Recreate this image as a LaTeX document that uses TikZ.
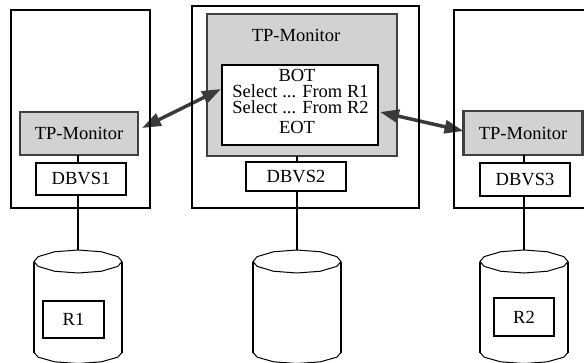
\documentclass[tikz,border=0pt]{standalone}
\usepackage{fontspec}
\setmainfont{Liberation Serif}
\usetikzlibrary{arrows.meta}
\definecolor{monfill}{RGB}{210,210,210}
\definecolor{monedge}{RGB}{64,64,64}
\definecolor{callgray}{RGB}{58,58,58}

\tikzset{
  pics/drum/.style={code={
    % top lid
    \draw[line width=1pt] (0:44 and 11.5)
      \foreach \a in {25,58,90,122,155,180,205,238,270,302,335} { -- (\a:44 and 11.5) } -- cycle;
    % walls
    \draw[line width=1.6pt] (-44,0) -- (-44,91) (44,0) -- (44,91);
    % bottom rim
    \draw[line width=1pt] ([shift={(0,91)}]180:44 and 11)
      \foreach \a in {155,122,90,58,25,0} { -- ([shift={(0,91)}]\a:44 and 11) };
    \coordinate (-top) at (0,-11.5);
  }}
}

\begin{document}
\begin{tikzpicture}[x=1pt,y=-1pt,
  every node/.style={inner sep=0pt, outer sep=0pt, font=\fontsize{18.5pt}{16pt}\selectfont},
  site/.style={draw, line width=2pt, rectangle},
  monitor/.style={draw=monedge, fill=monfill, line width=2.5pt, rectangle},
  dbvs/.style={draw, fill=white, line width=2.5pt, rectangle},
  sqlbox/.style={draw, fill=white, line width=2.5pt, rectangle},
  sqlline/.style={anchor=base, text height=12.5pt, text depth=2.5pt},
  relation/.style={draw, line width=1.5pt, rectangle},
  link/.style={line width=2pt},
  call/.style={callgray, line width=3.5pt,
    {Triangle[length=19pt,width=13pt]}-{Triangle[length=19pt,width=13pt]}}
]
\useasboundingbox (0,0) rectangle (584,362);
\clip (0,0) rectangle (584,362);

% transaction monitors
\node[monitor, minimum width=118pt, minimum height=43pt] (tpL) at (79,133.5) {TP-Monitor};
\node[monitor, minimum width=190pt, minimum height=142pt] (tpM) at (302,85) {};
\node[anchor=base] (tpMlabel) at (296,41) {TP-Monitor};
\node[monitor, minimum width=119pt, minimum height=44pt] (tpR) at (523,133) {TP-Monitor};

% transaction program
\node[sqlbox, minimum width=156pt, minimum height=80pt] (sql) at (300,105) {};
\node[sqlline] (bot) at (297,81) {BOT};
\node[sqlline] (sel1) at (300.5,97) {Select ... From R1};
\node[sqlline] (sel2) at (300.5,113) {Select ... From R2};
\node[sqlline] (eot) at (297,133) {EOT};

% databases
\pic (cylL) at (78,261.5) {drum};
\pic (cylM) at (297,261.5) {drum};
\pic (cylR) at (524,261.5) {drum};

\node[relation, minimum width=61pt, minimum height=37pt] (r1) at (73.5,319.5) {R1};
\node[relation, minimum width=60pt, minimum height=38pt] (r2) at (524,317) {R2};

% monitor to database links
\draw[link] (cylL-top) -- (cylL-top |- tpL.south);
\draw[link] (cylM-top) -- (cylM-top |- tpM.south);
\draw[link] (cylR-top) -- (cylR-top |- tpR.south);

% database systems
\node[dbvs, minimum width=90pt, minimum height=32pt] (db1) at (81,179) {DBVS1};
\node[dbvs, minimum width=100pt, minimum height=29pt] (db2) at (296,176.5) {DBVS2};
\node[dbvs, minimum width=90pt, minimum height=33pt] (db3) at (525,179.5) {DBVS3};

% remote calls
\draw[call] ([xshift=4pt,yshift=5.5pt]tpL.east) -- ([xshift=-1pt,yshift=16pt]sql.west);
\draw[call] ([xshift=2pt,yshift=-7pt]sql.east) -- ([yshift=2pt]tpR.west);

% sites
\node[site, minimum width=139pt, minimum height=198pt] (siteL) at (80.5,109) {};
\node[site, minimum width=227pt, minimum height=202pt] (siteM) at (305.5,107) {};
\node[site, minimum width=139pt, minimum height=198pt] (siteR) at (523.5,109) {};
\end{tikzpicture}
\end{document}
